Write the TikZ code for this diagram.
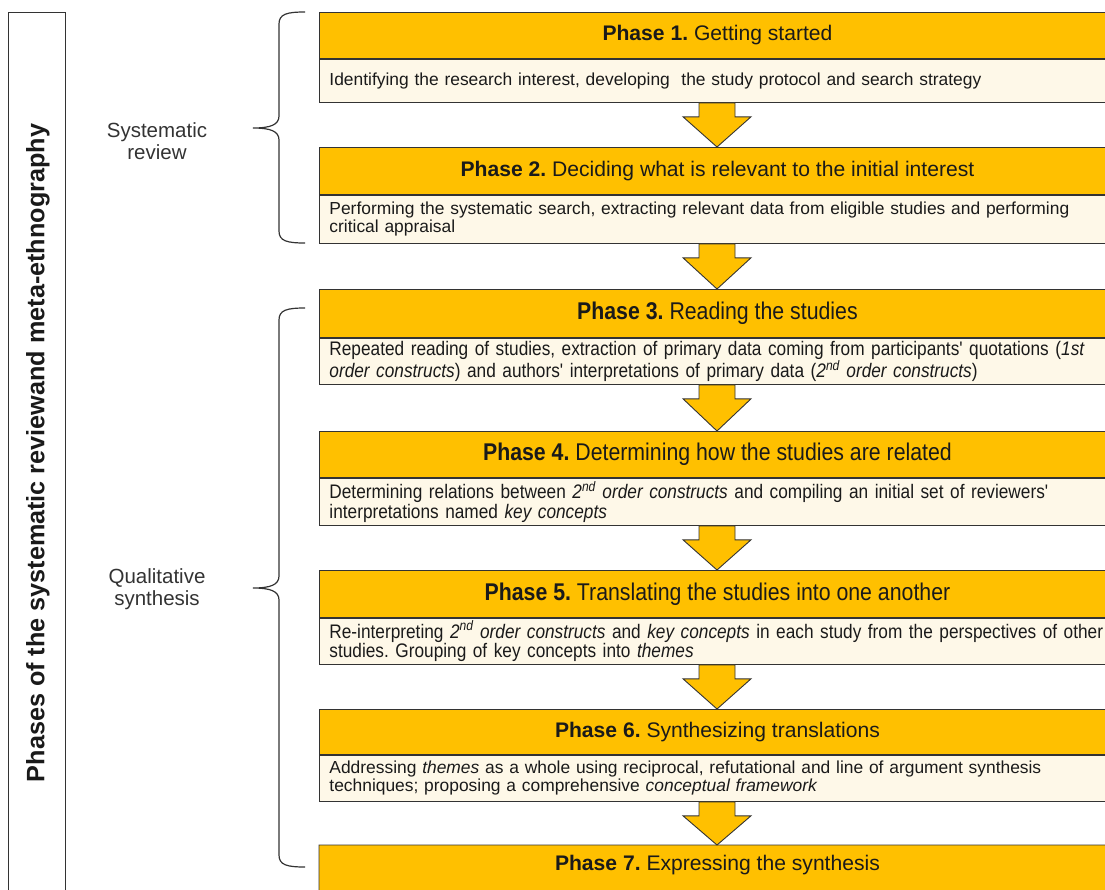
\documentclass[tikz,border=0pt]{standalone}
\usepackage{fontspec}
\setmainfont{Liberation Sans}
\newfontfamily\nar[FakeStretch=0.88]{Liberation Sans}
\usetikzlibrary{calc}
\definecolor{gold}{HTML}{FFC000}
\definecolor{cream}{HTML}{FEF8E8}
\definecolor{bd}{HTML}{333333}
\definecolor{txt}{HTML}{1A1A1A}
\tikzset{
  hdr/.style={draw=bd, fill=gold, line width=0.9pt, anchor=north west, minimum width=796pt, inner sep=0pt, text=txt, font=\fontsize{21.1}{24}\selectfont},
  nhdr/.style={hdr, font=\nar\fontsize{24.2}{28}\selectfont},
  bdy/.style={draw=bd, fill=cream, line width=0.9pt, anchor=north west, text width=776pt, align=left, inner xsep=10pt, inner ysep=0pt, text=txt, font=\fontsize{17.4}{18}\selectfont},
  nbdy/.style={bdy, font=\nar\fontsize{19.6}{18}\selectfont},
  arr/.style={draw=bd, fill=gold, line width=0.9pt, line join=miter},
  brace/.style={draw=bd, line width=1.2pt},
  lbl/.style={align=center, text=bd, font=\fontsize{20.5}{22}\selectfont},
}
\newcommand\blockarrow[2]{%
  \draw[arr] let \p1=(#1.south -| ax), \p2=(#2.north -| ax) in
    (\x1-18,\y1) -- (\x1-18,\y1-14) -- (\x1-34,\y1-14) -- (\x2,\y2)
    -- (\x1+34,\y1-14) -- (\x1+18,\y1-14) -- (\x1+18,\y1) -- cycle;}
\begin{document}
\frenchspacing
\begin{tikzpicture}[x=1pt,y=-1pt]
\useasboundingbox (0,0) rectangle (1105,889);
\clip (0,0) rectangle (1105,889);
\coordinate (ax) at (717,0);
% left title box
\draw[bd, line width=1pt] (8,12) rectangle (65,910);
\node[rotate=90, text=txt, font=\bfseries\fontsize{25.2}{26}\selectfont] (title) at (38,453) {Phases of the systematic reviewand meta-ethnography};
% phase 1
\node[hdr, minimum height=46pt] (h1) at (319,12) {\textbf{Phase 1.} Getting started};
\node[bdy, minimum height=43pt] (b1) at (h1.south west) {Identifying the research interest, developing \ the study protocol and search strategy};
% phase 2
\node[hdr, minimum height=47pt] (h2) at (319,147) {\textbf{Phase 2.} Deciding what is relevant to the initial interest};
\node[bdy, minimum height=48pt] (b2) at (h2.south west) {Performing the systematic search, extracting relevant data from eligible studies and performing\\critical appraisal};
% phase 3
\node[nhdr, minimum height=48pt] (h3) at (319,289) {\textbf{Phase 3.} Reading the studies};
\node[nbdy, minimum height=46pt] (b3) at (h3.south west) {Repeated reading of studies, extraction of primary data coming from participants' quotations (\textit{1st}\\\textit{order constructs}) and authors' interpretations of primary data (\textit{2\textsuperscript{nd} order constructs})};
% phase 4
\node[nhdr, minimum height=46pt] (h4) at (319,431) {\textbf{Phase 4.} Determining how the studies are related};
\node[nbdy, minimum height=47pt] (b4) at (h4.south west) {Determining relations between \textit{2\textsuperscript{nd} order constructs} and compiling an initial set of reviewers'\\interpretations named \textit{key concepts}};
% phase 5
\node[nhdr, minimum height=47pt] (h5) at (319,570) {\textbf{Phase 5.} Translating the studies into one another};
\node[nbdy, minimum height=46pt] (b5) at (h5.south west) {Re-interpreting \textit{2\textsuperscript{nd} order constructs} and \textit{key concepts} in each study from the perspectives of other\\studies. Grouping of key concepts into \textit{themes}};
% phase 6
\node[hdr, minimum height=45pt] (h6) at (319,709) {\textbf{Phase 6.} Synthesizing translations};
\node[bdy, minimum height=46pt] (b6) at (h6.south west) {Addressing \textit{themes} as a whole using reciprocal, refutational and line of argument synthesis\\techniques; proposing a comprehensive \textit{conceptual framework}};
% phase 7
\node[hdr, minimum height=40pt] (h7) at (319,845) {\textbf{Phase 7.} Expressing the synthesis};
\draw[bd, line width=0.9pt, fill=gold] (h7.north west) -- (319,900) -- (1120,900) -- (h7.north east) -- cycle;
\node[text=txt, font=\fontsize{21.1}{24}\selectfont] at (h7.center) {\textbf{Phase 7.} Expressing the synthesis};
% arrows
\blockarrow{b1}{h2}
\blockarrow{b2}{h3}
\blockarrow{b3}{h4}
\blockarrow{b4}{h5}
\blockarrow{b5}{h6}
\blockarrow{b6}{h7}
% braces
\draw[brace] (305,12) .. controls (287,12) and (279,14) .. (279,24) -- (279,116)
  .. controls (279,125) and (270,128) .. (253,128)
  .. controls (270,128) and (279,131) .. (279,140) -- (279,231)
  .. controls (279,241) and (287,243) .. (305,243);
\draw[brace] (305,308) .. controls (287,308) and (279,310) .. (279,320) -- (279,576)
  .. controls (279,585) and (270,588) .. (253,588)
  .. controls (270,588) and (279,591) .. (279,600) -- (279,855)
  .. controls (279,865) and (287,867) .. (305,867);
\node[lbl] (sr) at (157,141) {Systematic\\review};
\node[lbl] (qs) at (157,589) {Qualitative\\synthesis};
\end{tikzpicture}
\end{document}
